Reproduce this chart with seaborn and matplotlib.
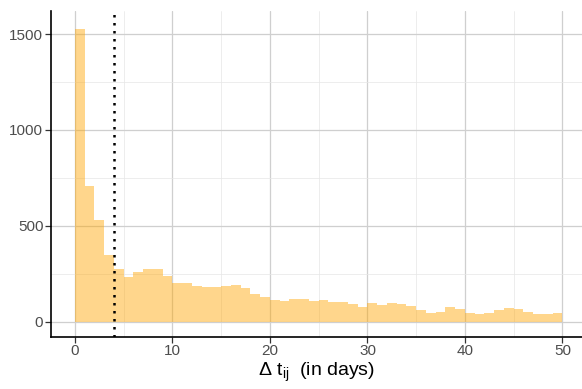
import numpy as np
import pandas as pd
import matplotlib
matplotlib.use("Agg")
import matplotlib.pyplot as plt
import seaborn as sns

# ---- data ----
bin_edges = list(range(0, 51))
counts = [1528, 708, 531, 347, 275, 233, 258, 273, 275, 238,
          202, 202, 187, 178, 182, 188, 191, 176, 145, 129,
          113, 108, 118, 118, 108, 113, 103, 103, 92, 77,
          98, 87, 98, 92, 82, 61, 45, 50, 77, 66,
          45, 40, 45, 61, 71, 66, 50, 40, 40, 45]
threshold = 4
x_ticks = [0, 10, 20, 30, 40, 50]
y_ticks = [0, 500, 1000, 1500]

df = pd.DataFrame({"dt": [e + 0.5 for e in bin_edges[:-1]], "n": counts})

sns.set_theme(style="white")
plt.rcParams["font.family"] = ["Liberation Sans", "DejaVu Sans"]
plt.rcParams["mathtext.fontset"] = "custom"
plt.rcParams["mathtext.rm"] = "Liberation Sans"
plt.rcParams["mathtext.it"] = "Liberation Sans:italic"

fig = plt.figure(figsize=(5.82, 3.89), dpi=100)
ax = fig.add_axes([51 / 582, (389 - 336.5) / 389, (582 - 51) / 582, (336.5 - 11.5) / 389])

ax.set_axisbelow(True)
sns.histplot(data=df, x="dt", weights="n", bins=bin_edges, ax=ax,
             color="#FFA500", alpha=0.45, edgecolor="none", linewidth=0)

ax.axvline(threshold, color="black", linestyle=(0, (1, 2.2)), linewidth=1.8)

ax.set_xlim(-2.46, 52.0)
ax.set_ylim(-78, 1618)
ax.set_xticks(x_ticks)
ax.set_yticks(y_ticks)
ax.set_xticks([5, 15, 25, 35, 45], minor=True)
ax.set_yticks([250, 750, 1250], minor=True)
ax.grid(True, which="major", color="#CFCFCF", linewidth=0.9)
ax.grid(True, which="minor", color="#E6E6E6", linewidth=0.5)

for s in ["top", "right"]:
    ax.spines[s].set_visible(False)
for s in ["left", "bottom"]:
    ax.spines[s].set_color("black")
    ax.spines[s].set_linewidth(1.2)

ax.tick_params(axis="both", which="major", length=4, width=0.9, color="#333333",
               labelsize=11, labelcolor="#4D4D4D", pad=1.5, bottom=True, left=True)
ax.tick_params(axis="both", which="minor", length=0)

ax.set_ylabel("")
ax.set_xlabel(r"Δ t$_{\mathrm{ij}}$  (in days)", fontsize=14, color="black", labelpad=2)

fig.savefig("out.png", dpi=100)
